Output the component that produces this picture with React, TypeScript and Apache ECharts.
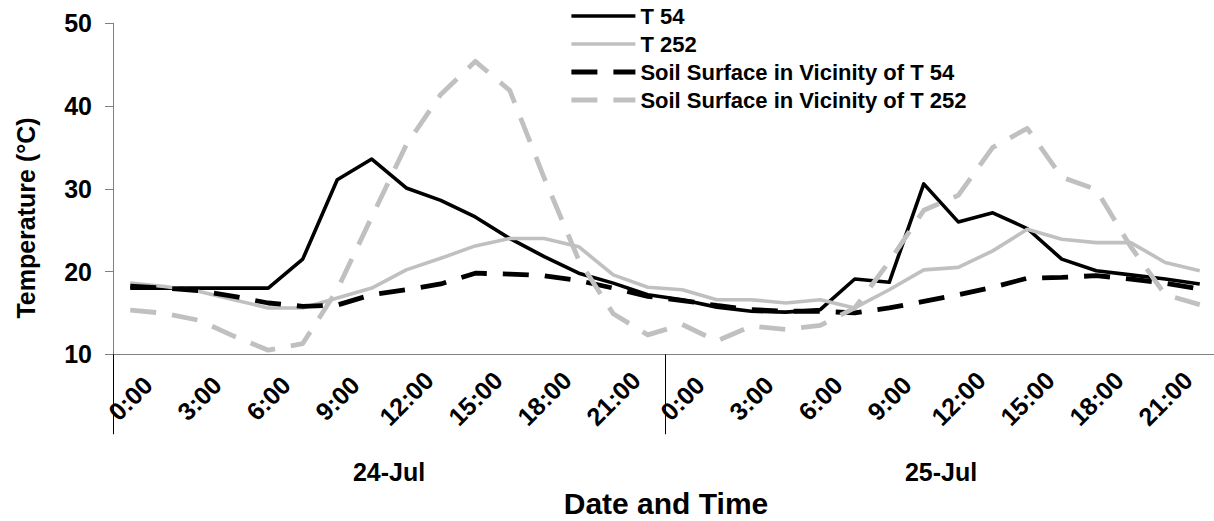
import React, { useEffect, useRef } from "react";
import * as echarts from "echarts";

const days = ["24-Jul", "25-Jul"];
const times = ["0:00", "1:30", "3:00", "4:30", "6:00", "7:30", "9:00", "10:30", "12:00", "13:30", "15:00", "16:30", "18:00", "19:30", "21:00", "22:30"];
const categories = days.flatMap((d) => times.map((t) => `${d} ${t}`));

const seriesNames = ["T 54", "T 252", "Soil Surface in Vicinity of T 54", "Soil Surface in Vicinity of T 252"];

const t54 = [18.0, 18.0, 18.0, 18.0, 18.0, 21.5, 31.1, 33.6, 30.1, 28.6, 26.6, 24.0, 21.8, 19.8, 18.6, 17.2,
  16.6, 15.7, 15.2, 15.1, 15.4, 19.1, 18.7, 30.6, 26.0, 27.1, 25.2, 21.5, 20.1, 19.6, 19.1, 18.5];
const t252 = [18.6, 18.2, 17.6, 16.6, 15.6, 15.6, 16.8, 18.0, 20.2, 21.6, 23.1, 24.0, 24.0, 23.0, 19.6, 18.1,
  17.8, 16.6, 16.6, 16.2, 16.6, 15.6, 17.8, 20.2, 20.5, 22.5, 25.1, 23.9, 23.5, 23.5, 21.1, 20.1];
const soil54 = [18.25, 18.0, 17.7, 17.0, 16.2, 15.8, 15.95, 17.2, 17.8, 18.5, 19.8, 19.7, 19.5, 18.9, 18.0, 17.0,
  16.5, 15.9, 15.4, 15.2, 15.2, 15.0, 15.6, 16.4, 17.2, 18.1, 19.2, 19.3, 19.5, 19.1, 18.6, 17.9];
const soil252 = [15.35, 14.95, 14.1, 12.2, 10.5, 11.3, 17.8, 26.6, 35.3, 41.4, 45.4, 41.9, 31.3, 21.4, 14.9, 12.35,
  13.6, 11.6, 13.4, 13.0, 13.5, 15.6, 21.2, 27.4, 29.2, 35.0, 37.3, 31.4, 29.9, 23.0, 17.2, 16.0];

const yTicks = { min: 10, max: 50, interval: 10 };

const FONT = '"Liberation Sans", Arial, Helvetica, sans-serif';
const BLACK = "#000000";
const GRAY = "#c0c0c0";

export default function App() {
  const ref = useRef<HTMLDivElement>(null);

  useEffect(() => {
    if (!ref.current) return;
    const chart = echarts.init(ref.current, undefined, { renderer: "svg" });

    const mk = (name: string, data: number[], color: string, dashed: boolean) => ({
      name,
      type: "line",
      data,
      xAxisIndex: 0,
      yAxisIndex: 0,
      symbol: "none",
      showSymbol: false,
      lineStyle: {
        color,
        width: dashed ? 4.8 : 3.6,
        type: dashed ? [26, 16] : "solid",
        cap: "butt",
        join: "round",
      },
      itemStyle: { color },
      emphasis: { disabled: true },
    });

    chart.setOption({
      animation: false,
      backgroundColor: "#ffffff",
      grid: {
        left: 113,
        right: -3,
        top: 23.3,
        bottom: 166.7,
        containLabel: false,
        outerBoundsMode: "none",
      },
      legend: {
        orient: "vertical",
        left: 564,
        top: 0,
        itemWidth: 64,
        itemHeight: 14,
        itemGap: 6,
        selectedMode: false,
        itemStyle: { opacity: 0 },
        lineStyle: { width: "inherit" },
        textStyle: { fontSize: 22, fontWeight: "bold", color: "#000", fontFamily: FONT, lineHeight: 22 },
        data: seriesNames,
      },
      xAxis: [
        {
          type: "category",
          data: categories,
          boundaryGap: true,
          position: "bottom",
          axisLine: { show: true, onZero: false, lineStyle: { color: "#808080", width: 1 } },
          axisTick: { show: false },
          splitLine: { show: false },
          axisLabel: {
            interval: 1,
            rotate: 45,
            align: "center",
            verticalAlign: "middle",
            margin: 44,
            fontSize: 25,
            fontWeight: "bold",
            color: "#000",
            fontFamily: FONT,
            formatter: (v: string) => v.split(" ")[1],
          },
        },
        {
          type: "category",
          data: days,
          boundaryGap: true,
          position: "bottom",
          axisLine: { show: false, onZero: false },
          axisTick: { show: true, length: 80, lineStyle: { color: "#000", width: 1 } },
          splitLine: { show: false },
          axisLabel: {
            interval: 0,
            margin: 105,
            fontSize: 25,
            fontWeight: "bold",
            color: "#000",
            fontFamily: FONT,
          },
        },
      ],
      yAxis: {
        type: "value",
        min: yTicks.min,
        max: yTicks.max,
        interval: yTicks.interval,
        axisLine: { show: true, lineStyle: { color: "#808080", width: 1 } },
        axisTick: { show: true, length: 8, inside: false, lineStyle: { color: "#808080" } },
        splitLine: { show: false },
        axisLabel: {
          margin: 21,
          fontSize: 25,
          fontWeight: "bold",
          color: "#000",
          fontFamily: FONT,
        },
      },
      graphic: [
        {
          type: "text",
          x: 25.5,
          y: 218,
          rotation: Math.PI / 2,
          style: {
            text: "Temperature (°C)",
            font: `bold 25px ${FONT}`,
            fill: "#000",
            textAlign: "center",
            textVerticalAlign: "middle",
          },
        },
        {
          type: "text",
          x: 666,
          y: 503,
          style: {
            text: "Date and Time",
            font: `bold 30px ${FONT}`,
            fill: "#000",
            textAlign: "center",
            textVerticalAlign: "middle",
          },
        },
      ],
      series: [
        mk(seriesNames[0], t54, BLACK, false),
        mk(seriesNames[1], t252, GRAY, false),
        mk(seriesNames[2], soil54, BLACK, true),
        mk(seriesNames[3], soil252, GRAY, true),
      ],
    });

    return () => chart.dispose();
  }, []);

  return (
    <div
      ref={ref}
      style={{ position: "fixed", left: 0, top: 0, width: 1214, height: 521, background: "#fff" }}
    />
  );
}
